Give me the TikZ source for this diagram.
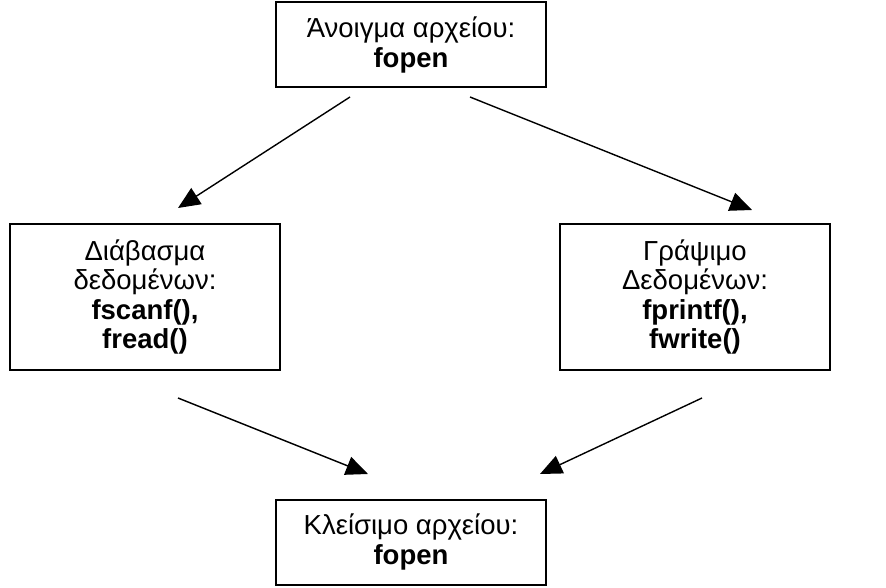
\documentclass[tikz,border=0pt]{standalone}
\usepackage{fontspec}
\setmainfont{Liberation Sans}
\usetikzlibrary{arrows.meta}
\begin{document}
\begin{tikzpicture}
    [x=1pt,y=-1pt,%%%%%%%%%%%%%%%%%%%%%%%%%%%%%%
        box/.style={rectangle,draw=black,line width=2pt,align=center,
            font=\fontsize{27.5}{29.5}\selectfont,inner sep=0pt},
        arr/.style={line width=1.4pt,-{Triangle[length=22pt,width=19pt]}},
    ]%%%%%%%%%%%%%%%%%%%%%%%%%%%%%%

\useasboundingbox (0,0) rectangle (886,588);

\node[box,minimum width=270pt,minimum height=85pt] (open) at (411,45)
    {Άνοιγμα αρχείου:\\\textbf{fopen}};
\node[box,minimum width=270pt,minimum height=145pt] (read) at (145,297)
    {Διάβασμα\\δεδομένων:\\\textbf{fscanf(),}\\\textbf{fread()}};
\node[box,minimum width=270pt,minimum height=145pt] (write) at (695,297)
    {Γράψιμο\\Δεδομένων:\\\textbf{fprintf(),}\\\textbf{fwrite()}};
\node[box,minimum width=270pt,minimum height=85pt] (close) at (411,542)
    {Κλείσιμο αρχείου:\\\textbf{fopen}};

\coordinate (open-l) at (350,97);
\coordinate (open-r) at (470,97);
\coordinate (read-t) at (178,208);
\coordinate (write-t) at (752,210);
\coordinate (read-b) at (178,398);
\coordinate (write-b) at (702,398);
\coordinate (close-l) at (368,474);
\coordinate (close-r) at (540,474);

\draw[arr] (open-l) -- (read-t);
\draw[arr] (open-r) -- (write-t);
\draw[arr] (read-b) -- (close-l);
\draw[arr] (write-b) -- (close-r);
\end{tikzpicture}
\end{document}
